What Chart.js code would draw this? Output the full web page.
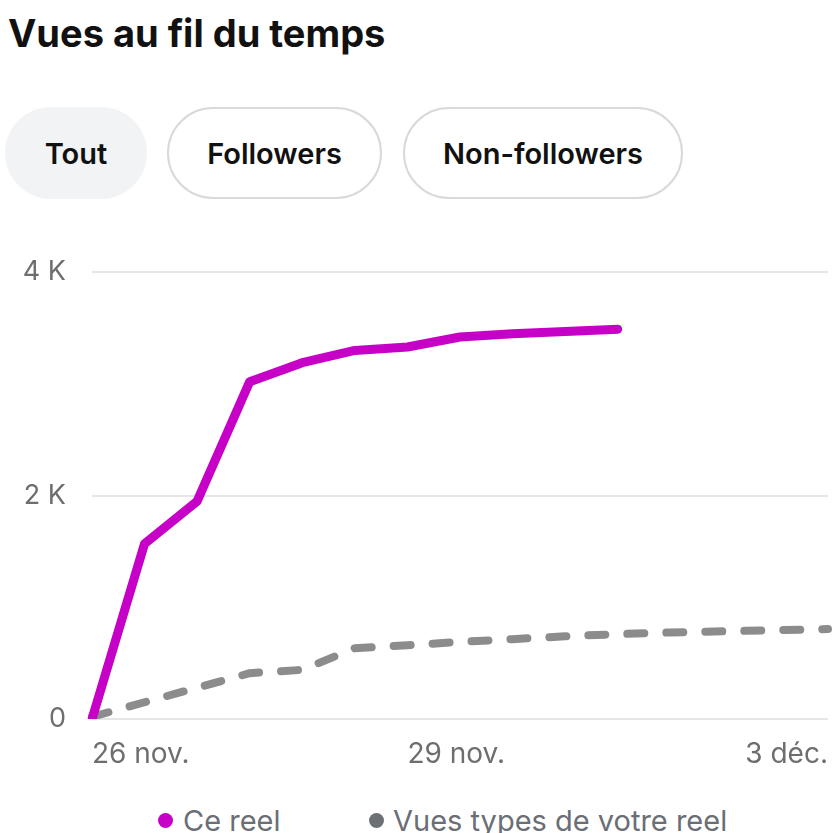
<!DOCTYPE html>
<html lang="fr">
<head>
<meta charset="utf-8">
<title>Vues au fil du temps</title>
<script src="https://cdn.jsdelivr.net/npm/chart.js@4.4.1/dist/chart.umd.min.js"></script>
<style>
  html, body { margin: 0; padding: 0; background: #fff; overflow: hidden; }
  body { width: 838px; height: 833px; position: relative; font-family: Inter, "Noto Sans", sans-serif; }
  h1 { position: absolute; left: 8px; top: 14px; margin: 0; font-size: 38px; line-height: 1; font-weight: 700; color: #111; }
  .pill { position: absolute; top: 107px; height: 92px; box-sizing: border-box; border-radius: 46px;
          display: flex; align-items: center; justify-content: center;
          font-size: 29px; font-weight: 600; color: #111; }
  .pill.active { background: #f2f3f5; }
  .pill.outline { border: 2px solid #d9d9d9; background: #fff; }
  #chartBox { position: absolute; left: 0; top: 230px; width: 838px; height: 560px; }
  .legend { position: absolute; top: 806px; font-size: 29px; line-height: 1; color: #6a6e75; white-space: nowrap; }
  .legend .dot { position: absolute; top: 7px; width: 15px; height: 15px; border-radius: 50%; }
</style>
</head>
<body>
<h1>Vues au fil du temps</h1>
<div class="pill active" style="left:5px;width:142px;">Tout</div>
<div class="pill outline" style="left:167px;width:215px;">Followers</div>
<div class="pill outline" style="left:403px;width:280px;">Non-followers</div>

<div id="chartBox"><canvas id="viewsChart"></canvas></div>

<div class="legend" style="left:158px;"><span class="dot" style="left:0;background:#c600c6;"></span><span style="margin-left:25px;">Ce reel</span></div>
<div class="legend" style="left:369px;"><span class="dot" style="left:0;background:#6b6f76;"></span><span style="margin-left:24px;">Vues types de votre reel</span></div>

<script>
// half-day steps from 26 nov. to 3 déc.
const categories = [
    '26 nov. 0h', '26 nov. 12h', '27 nov. 0h', '27 nov. 12h', '28 nov. 0h',
    '28 nov. 12h', '29 nov. 0h', '29 nov. 12h', '30 nov. 0h', '30 nov. 12h',
    '1 déc. 0h', '1 déc. 12h', '2 déc. 0h', '2 déc. 12h', '3 déc. 0h'
];
const ceReel = [0, 1570, 1950, 3020, 3190, 3300, 3330, 3420, 3450, 3470, 3490, null, null, null, null];
const vuesTypes = [20, 150, 280, 410, 440, 634, 660, 690, 715, 740, 760, 775, 785, 795, 805];

const yTickValues = [0, 2000, 4000];
const yTickLabels = ['0', '2 K', '4 K'];
const xTickIndexes = [0, 6, 14];
const xTickLabels = ['26 nov.', '29 nov.', '3 déc.'];

// x labels: left aligned on their day, the last one right aligned
const xLabelsPlugin = {
    id: 'xLabels',
    afterDraw(chart) {
        const { ctx, chartArea, scales } = chart;
        ctx.save();
        ctx.font = '400 28px Inter, "Noto Sans", sans-serif';
        ctx.fillStyle = '#6e6e6e';
        ctx.textBaseline = 'middle';
        xTickIndexes.forEach((idx, i) => {
            ctx.textAlign = i === xTickIndexes.length - 1 ? 'right' : 'left';
            ctx.fillText(xTickLabels[i], scales.x.getPixelForValue(idx), chartArea.bottom + 36);
        });
        ctx.restore();
    },
};

const ctx = document.getElementById('viewsChart').getContext('2d');
new Chart(ctx, {
    type: 'line',
    data: {
        labels: categories,
        datasets: [
            {
                label: 'Ce reel',
                data: ceReel,
                borderColor: '#c600c6',
                borderWidth: 9,
                borderCapStyle: 'round',
                borderJoinStyle: 'round',
                pointRadius: 0,
                tension: 0,
                spanGaps: false,
            },
            {
                label: 'Vues types de votre reel',
                data: vuesTypes,
                borderColor: '#8c8c8c',
                borderWidth: 8,
                borderDash: [17, 22],
                borderCapStyle: 'round',
                borderJoinStyle: 'round',
                pointRadius: 0,
                tension: 0,
            },
        ],
    },
    options: {
        responsive: true,
        maintainAspectRatio: false,
        animation: false,
        layout: { padding: { top: 41, right: 10, bottom: 71, left: 0 } },
        plugins: {
            legend: { display: false },
            tooltip: { enabled: false },
        },
        scales: {
            x: {
                type: 'category',
                offset: false,
                afterFit: (scale) => { scale.height = 0; },
                grid: { display: false },
                border: { display: false },
                ticks: { display: false },
            },
            y: {
                min: 0,
                max: 4000,
                afterFit: (scale) => { scale.width = 92; },
                afterBuildTicks: (scale) => { scale.ticks = yTickValues.map(v => ({ value: v })); },
                border: { display: false },
                grid: { color: '#e6e6e6', lineWidth: 2, drawTicks: false },
                ticks: {
                    padding: 26,
                    color: '#6e6e6e',
                    font: { family: 'Inter, "Noto Sans", sans-serif', size: 27 },
                    callback: (value) => yTickLabels[yTickValues.indexOf(value)],
                },
            },
        },
    },
    plugins: [xLabelsPlugin],
});
</script>
</body>
</html>
